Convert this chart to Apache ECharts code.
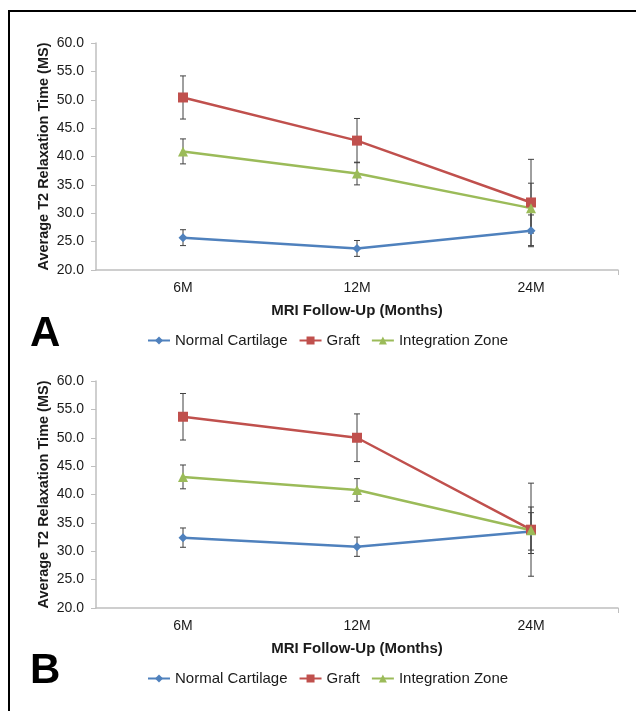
<!DOCTYPE html>
<html>
<head>
<meta charset="utf-8">
<script src="https://cdn.jsdelivr.net/npm/echarts@6/dist/echarts.min.js"></script>
<style>
  html, body { margin: 0; padding: 0; background: #fff; }
  #wrap { position: relative; width: 636px; height: 711px; }
  #chart { position: absolute; left: 0; top: 0; width: 636px; height: 711px; }
  #frame { position: absolute; left: 8px; top: 10px; right: 0; bottom: 0;
           border-left: 2px solid #000; border-top: 2px solid #000; pointer-events: none; }
</style>
</head>
<body>
<div id="wrap">
  <div id="chart"></div>
  <div id="frame"></div>
</div>
<script>
var categories = ['6M', '12M', '24M'];
var seriesNames = ['Normal Cartilage', 'Graft', 'Integration Zone'];

// panel A
var aNormal = [25.7, 23.8, 26.9];
var aNormalErr = [1.4, 1.4, 2.8];
var aGraft = [50.4, 42.8, 31.9];
var aGraftErr = [3.8, 3.9, 7.6];
var aInteg = [40.9, 37.0, 30.9];
var aIntegErr = [2.2, 2.0, 4.4];

// panel B
var bNormal = [32.4, 30.8, 33.5];
var bNormalErr = [1.7, 1.7, 3.3];
var bGraft = [53.7, 50.0, 33.8];
var bGraftErr = [4.1, 4.2, 8.2];
var bInteg = [43.1, 40.8, 33.7];
var bIntegErr = [2.1, 2.0, 4.1];

var yTicks = { min: 20, max: 60, interval: 5 };

var COLORS = ['#4F81BD', '#C0504D', '#9BBB59'];
var SYMBOLS = ['diamond', 'rect', 'triangle'];
var SYMBOL_SIZES = [9, 10, 10];
var FONT = '"Liberation Sans", Arial, sans-serif';
var AXIS_GREY = '#bfbfbf';

function errData(vals, errs) {
    var out = [];
    for (var i = 0; i < vals.length; i++) {
        out.push([i, vals[i] - errs[i], vals[i] + errs[i]]);
    }
    return out;
}

function renderErr(params, api) {
    var x = api.value(0);
    var lo = api.coord([x, api.value(1)]);
    var hi = api.coord([x, api.value(2)]);
    var cap = 3;
    var st = { stroke: '#404040', lineWidth: 1 };
    return {
        type: 'group',
        children: [
            { type: 'line', shape: { x1: lo[0], y1: lo[1], x2: hi[0], y2: hi[1] }, style: st },
            { type: 'line', shape: { x1: lo[0] - cap, y1: lo[1], x2: lo[0] + cap, y2: lo[1] }, style: st },
            { type: 'line', shape: { x1: hi[0] - cap, y1: hi[1], x2: hi[0] + cap, y2: hi[1] }, style: st }
        ]
    };
}

function makeXAxes(gridIndex) {
    return [
        {
            type: 'category', gridIndex: gridIndex, data: categories, boundaryGap: true,
            name: 'MRI Follow-Up (Months)', nameLocation: 'middle', nameGap: 33,
            nameTextStyle: { fontFamily: FONT, fontWeight: 'bold', fontSize: 15, color: '#1a1a1a' },
            axisLine: { lineStyle: { color: AXIS_GREY, width: 1.5 } },
            axisTick: { alignWithLabel: true, length: 5, lineStyle: { color: AXIS_GREY } },
            axisLabel: { fontFamily: FONT, fontSize: 14, color: '#1a1a1a', margin: 11 },
            splitLine: { show: false }
        },
        {
            // helper axis only for the tick at the right end
            type: 'category', gridIndex: gridIndex, data: ['', ''], boundaryGap: false,
            position: 'bottom',
            axisLine: { show: false },
            axisTick: { length: 5, lineStyle: { color: AXIS_GREY },
                interval: function (idx) { return idx === 1; } },
            axisLabel: { show: false },
            splitLine: { show: false }
        }
    ];
}

function makeYAxis(gridIndex) {
    return {
        type: 'value', gridIndex: gridIndex,
        min: yTicks.min, max: yTicks.max, interval: yTicks.interval,
        name: 'Average T2 Relaxation Time (MS)', nameLocation: 'middle', nameGap: 45,
        nameMoveOverlap: false,
        nameTextStyle: { fontFamily: FONT, fontWeight: 'bold', fontSize: 14.5, color: '#1a1a1a' },
        axisLine: { show: true, lineStyle: { color: AXIS_GREY, width: 1.5 } },
        axisTick: { show: true, length: 5, lineStyle: { color: AXIS_GREY } },
        axisLabel: { fontFamily: FONT, fontSize: 14, color: '#1a1a1a', margin: 12,
            formatter: function (v) { return v.toFixed(1); } },
        splitLine: { show: false }
    };
}

function makeSeries(gridIndex, vals, errs) {
    var xi = gridIndex * 2;
    var out = [];
    for (var i = 0; i < 3; i++) {
        out.push({
            type: 'custom', name: seriesNames[i] + ' err' + gridIndex,
            xAxisIndex: xi, yAxisIndex: gridIndex,
            renderItem: renderErr, data: errData(vals[i], errs[i]),
            silent: true, z: 1
        });
    }
    for (var j = 0; j < 3; j++) {
        out.push({
            type: 'line', name: seriesNames[j],
            xAxisIndex: xi, yAxisIndex: gridIndex,
            data: vals[j], symbol: SYMBOLS[j], symbolSize: SYMBOL_SIZES[j],
            lineStyle: { color: COLORS[j], width: 2.5 },
            itemStyle: { color: COLORS[j] },
            z: 3
        });
    }
    return out;
}

function makeLegend(top) {
    return {
        top: top, left: 147, padding: 0, itemGap: 11, itemWidth: 22, itemHeight: 10,
        data: seriesNames,
        textStyle: { fontFamily: FONT, fontSize: 15, color: '#1a1a1a' },
        selectedMode: false
    };
}

var chart = echarts.init(document.getElementById('chart'));
var opts = {
    animation: false,
    backgroundColor: '#fff',
    title: [
        { text: 'A', left: 25, top: 308, textStyle: { fontFamily: FONT, fontWeight: 'bold', fontSize: 42, color: '#000' } },
        { text: 'B', left: 25, top: 645, textStyle: { fontFamily: FONT, fontWeight: 'bold', fontSize: 42, color: '#000' } }
    ],
    grid: [
        { left: 96, right: 18, top: 43, height: 227 },
        { left: 96, right: 18, top: 381, height: 227 }
    ],
    xAxis: makeXAxes(0).concat(makeXAxes(1)),
    yAxis: [makeYAxis(0), makeYAxis(1)],
    legend: [makeLegend(333), makeLegend(671)],
    series: makeSeries(0, [aNormal, aGraft, aInteg], [aNormalErr, aGraftErr, aIntegErr])
        .concat(makeSeries(1, [bNormal, bGraft, bInteg], [bNormalErr, bGraftErr, bIntegErr]))
};
chart.setOption(opts);
</script>
</body>
</html>
